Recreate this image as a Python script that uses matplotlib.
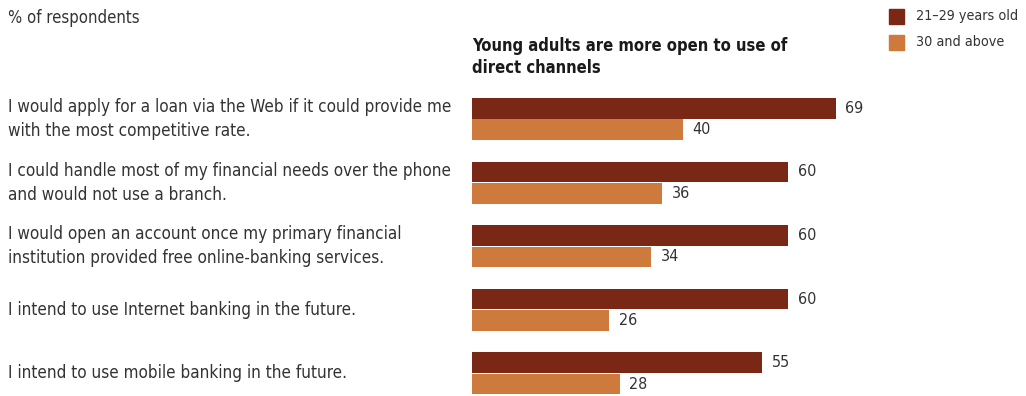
import matplotlib
matplotlib.use("Agg")
import matplotlib.pyplot as plt
from matplotlib.patches import Rectangle

categories = [
    "I would apply for a loan via the Web if it could provide me\nwith the most competitive rate.",
    "I could handle most of my financial needs over the phone\nand would not use a branch.",
    "I would open an account once my primary financial\ninstitution provided free online-banking services.",
    "I intend to use Internet banking in the future.",
    "I intend to use mobile banking in the future.",
]
young = [69, 60, 60, 60, 55]
older = [40, 36, 34, 26, 28]
series_names = ["21\u201329 years old", "30 and above"]
title = "Young adults are more open to use of\ndirect channels"
unit_label = "% of respondents"

DARK = "#7B2716"
LIGHT = "#CD7A3C"
TXT = "#333333"
plt.rcParams["font.family"] = ["DejaVu Sans"]
plt.rcParams["font.stretch"] = "condensed"

W, H = 1026, 396
fig = plt.figure(figsize=(W / 100, H / 100), dpi=100)

ax_left, ax_right = 472, 472 + 527.5
ax_top, ax_bottom = 87.2, 396
ax = fig.add_axes([ax_left / W, 1 - ax_bottom / H, (ax_right - ax_left) / W, (ax_bottom - ax_top) / H])
ax.set_xlim(0, 100)
ax.set_ylim((396 - 119) / 63.6, -0.5)
ax.axis("off")

bh = 0.325
off = 0.168
for i, (a, b) in enumerate(zip(young, older)):
    ax.barh(i - off, a, height=bh, color=DARK, edgecolor="none")
    ax.barh(i + off, b, height=bh, color=LIGHT, edgecolor="none")
    ax.text(a + 1.8, i - off, str(a), va="center", ha="left", fontsize=11.5, color=TXT)
    ax.text(b + 1.8, i + off, str(b), va="center", ha="left", fontsize=11.5, color=TXT)
    fig.text(8 / W, 1 - (119 + i * 63.6) / H, categories[i], ha="left", va="center",
             fontsize=12.25, color=TXT, linespacing=1.42)

fig.text(8 / W, 1 - 18 / H, unit_label, ha="left", va="center", fontsize=12, color=TXT)
fig.text(472 / W, 1 - 57 / H, title, ha="left", va="center", fontsize=11.9,
         fontweight="bold", color="#1a1a1a", linespacing=1.3)

for k, (name, col) in enumerate(zip(series_names, [DARK, LIGHT])):
    yc = 16 + k * 26
    fig.patches.append(Rectangle((889 / W, 1 - (yc + 7.5) / H), 15 / W, 15 / H,
                                 transform=fig.transFigure, color=col))
    fig.text(916 / W, 1 - yc / H, name, ha="left", va="center", fontsize=10.3, color=TXT)

fig.savefig("out.png", dpi=100, facecolor="white")
